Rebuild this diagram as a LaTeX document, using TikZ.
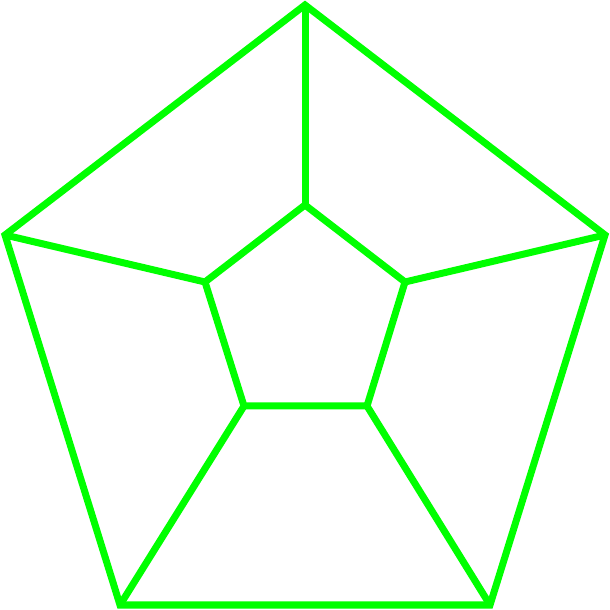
\documentclass[tikz,border=0pt]{standalone}
\usepackage{xcolor}
\usepackage{tikz}
\definecolor{edgegreen}{RGB}{0,255,0}

\begin{document}
\begin{tikzpicture}[edge/.style={draw=edgegreen, line width=0.07cm}]
  \useasboundingbox (0,0) rectangle (6.1,6.1);

  % outer pentagon
  \coordinate (o1) at (3.05,6.05);
  \coordinate (o2) at (6.05,3.75);
  \coordinate (o3) at (4.90,0.05);
  \coordinate (o4) at (1.20,0.05);
  \coordinate (o5) at (0.05,3.75);

  % inner pentagon
  \coordinate (i1) at (3.05,4.05);
  \coordinate (i2) at (4.05,3.28);
  \coordinate (i3) at (3.67,2.04);
  \coordinate (i4) at (2.44,2.04);
  \coordinate (i5) at (2.05,3.28);

  \draw[edge] (o1) -- (o2) -- (o3) -- (o4) -- (o5) -- cycle;
  \draw[edge] (i1) -- (i2) -- (i3) -- (i4) -- (i5) -- cycle;
  \foreach \k in {1,...,5}
    \draw[edge] (o\k) -- (i\k);
\end{tikzpicture}
\end{document}
